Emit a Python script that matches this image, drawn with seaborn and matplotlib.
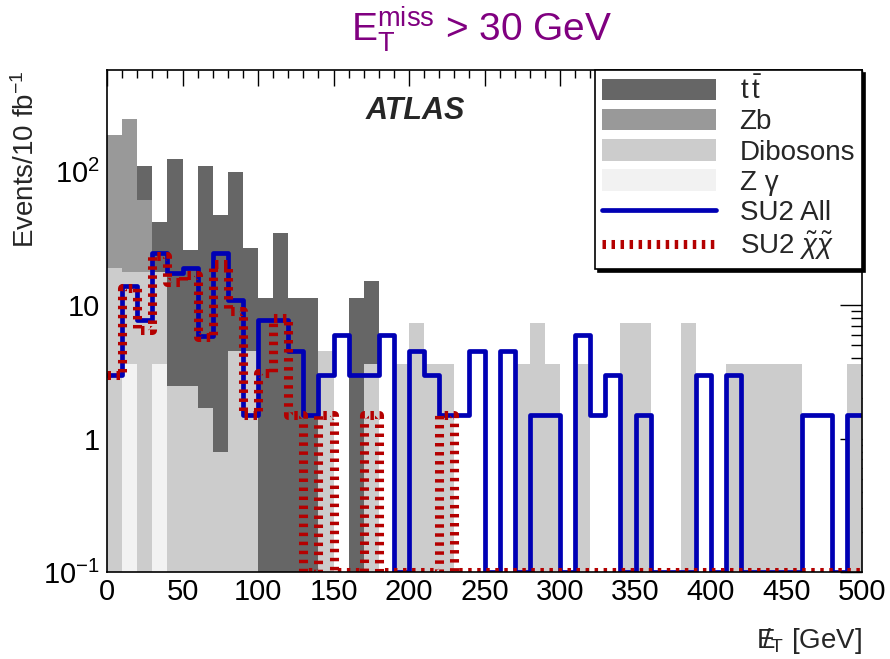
import numpy as np
import pandas as pd
import matplotlib
matplotlib.use("Agg")
import matplotlib.pyplot as plt
import seaborn as sns
from matplotlib.patches import Patch
from matplotlib.lines import Line2D
from matplotlib.ticker import FixedLocator, FixedFormatter, MultipleLocator, LogLocator, NullFormatter

# ---------------- data (10 GeV bins, 0-500 GeV) ----------------
bin_edges = list(range(0, 510, 10))
bin_centers = [e + 5 for e in bin_edges[:-1]]

ttbar = [0, 0, 48, 24, 122, 23.5, 108, 47, 95.5, 22.5,
         11.4, 35, 11.4, 11.4, 0, 0, 11.4, 11.6] + [0] * 32
zb = [171, 231, 44] + [0] * 47
dibosons = [19, 14.2, 17.8, 14.2, 2.5, 2.5, 1.7, 0.8, 4.5, 4.5,
            0, 0, 0, 0, 4.5, 0, 0, 3.6, 0, 3.6,
            7.3, 3.6, 3.6, 0, 0, 0, 0, 3.6, 7.3, 3.6,
            0, 3.6, 0, 0, 7.3, 7.3, 0, 0, 7.3, 0,
            0, 3.6, 3.6, 3.6, 3.6, 3.6, 0, 0, 0, 3.6]
zgamma = [0, 3.6, 0, 3.6] + [0] * 46
su2_all = [3, 14, 7.7, 24.7, 17.3, 18.9, 5.9, 24.7, 10.9, 1.5,
           7.7, 7.7, 4.5, 1.5, 3, 6, 3, 3, 6, 0,
           4.5, 3, 1.5, 1.5, 4.5, 0, 4.5, 0, 1.5, 1.5,
           0, 6, 1.5, 3, 0, 1.5, 0, 0, 0, 3,
           0, 3, 0, 0, 0, 0, 1.5, 1.5, 0, 1.5]
su2_chichi = [3, 13.5, 6.5, 23.5, 15, 16.8, 5.8, 20.4, 9, 1.5,
              3.1, 8, 1.5, 0, 1.5, 0, 0, 1.5, 0, 0,
              0, 0, 1.5] + [0] * 27

processes = ["ttbar", "Zb", "Dibosons", "Zgamma"]
legend_labels = [r"$\mathrm{t}\,\bar{\mathrm{t}}$", "Zb", "Dibosons", "Z γ",
                 "SU2 All", r"SU2 $\tilde{\chi}\tilde{\chi}$"]
y_tick_vals = [0.1, 1, 10, 100]
y_tick_labels = [r"$10^{-1}$", "1", "10", r"$10^{2}$"]

# ---------------- style ----------------
sns.set_style("white")
plt.rcParams["font.family"] = ["Liberation Sans", "DejaVu Sans"]
plt.rcParams["mathtext.fontset"] = "custom"
plt.rcParams["mathtext.rm"] = "Liberation Sans"
plt.rcParams["mathtext.it"] = "Liberation Sans:italic"
plt.rcParams["mathtext.bf"] = "Liberation Sans:bold"
plt.rcParams["lines.scale_dashes"] = False

colors = {"ttbar": "#666666", "Zb": "#999999", "Dibosons": "#cccccc", "Zgamma": "#f2f2f2"}
blue = "#0000b4"
red = "#b40000"
red_dash = (0, (2.5, 4.0))

fig = plt.figure(figsize=(8.9, 6.59), dpi=100)
ax = fig.add_axes([107 / 890, 1 - 572 / 659, (862 - 107) / 890, (572 - 70) / 659])

df = pd.DataFrame({
    "met": np.tile(bin_centers, len(processes)),
    "events": np.concatenate([ttbar, zb, dibosons, zgamma]),
    "process": np.repeat(processes, len(bin_centers)),
})

sns.histplot(data=df, x="met", weights="events", hue="process", hue_order=processes,
             multiple="stack", bins=bin_edges, palette=colors, alpha=1,
             linewidth=0, edgecolor="none", legend=False, ax=ax)

ax.set_yscale("log")
ymin, ymax = 0.1, 580
ax.set_xlim(0, 500)
ax.set_ylim(ymin, ymax)


def step_vals(v):
    v = np.asarray(v, dtype=float)
    v = np.where(v > 0, v, ymin)
    return np.append(v, v[-1])


xs = np.asarray(bin_edges, dtype=float)
sns.lineplot(x=xs, y=step_vals(su2_all), drawstyle="steps-post", color=blue,
             linewidth=3.4, estimator=None, sort=False, ax=ax)
sns.lineplot(x=xs, y=step_vals(su2_chichi), drawstyle="steps-post", color=red,
             linewidth=6.5, linestyle=red_dash, estimator=None, sort=False, ax=ax)

# ---------------- axes ----------------
ax.yaxis.set_major_locator(FixedLocator(y_tick_vals))
ax.yaxis.set_major_formatter(FixedFormatter(y_tick_labels))
ax.yaxis.set_minor_locator(LogLocator(base=10, subs=np.arange(2, 10)))
ax.yaxis.set_minor_formatter(NullFormatter())
ax.xaxis.set_major_locator(MultipleLocator(50))
ax.xaxis.set_minor_locator(MultipleLocator(10))

ax.tick_params(axis="both", which="both", direction="in", top=True, right=True,
               colors="black", width=1.0)
ax.tick_params(axis="x", which="major", length=11.5, labelsize=21, pad=4)
ax.tick_params(axis="x", which="minor", length=5.8)
ax.tick_params(axis="y", which="major", length=16, labelsize=21, pad=5)
ax.tick_params(axis="y", which="minor", length=8)
for s in ax.spines.values():
    s.set_color("black")
    s.set_linewidth(1.2)

ax.set_ylabel("Events/10 fb$^{-1}$", loc="top", fontsize=20, labelpad=2)
ax.set_xlabel(r"$\mathrm{E}\!\!\!/_{\mathrm{T}}$ [GeV]", loc="right", fontsize=20, labelpad=15)

ax.text(0.342, 0.918, "ATLAS", transform=ax.transAxes, fontsize=22,
        fontweight="bold", fontstyle="italic", ha="left", va="center")

fig.text(482 / 890, 1 - 29 / 659, r"$\mathrm{E}_\mathrm{T}^\mathrm{miss}$ > 30 GeV",
         color="#800080", fontsize=28, ha="center", va="center")

# ---------------- legend ----------------
handles = [Patch(facecolor=colors[p], edgecolor="none") for p in processes]
handles += [Line2D([0], [0], color=blue, linewidth=3.4),
            Line2D([0], [0], color=red, linewidth=6.5, linestyle=red_dash)]
leg = ax.legend(handles, legend_labels, loc="upper right", bbox_to_anchor=(1.0, 1.0),
                borderaxespad=0, fontsize=20, frameon=True, fancybox=False,
                shadow={"color": "black", "alpha": 1}, edgecolor="black",
                framealpha=1, handlelength=4.1, handleheight=0.8,
                handletextpad=0.85, labelspacing=0.14, borderpad=0.25)
leg.get_frame().set_linewidth(1.2)

fig.savefig("out.png", dpi=100)
